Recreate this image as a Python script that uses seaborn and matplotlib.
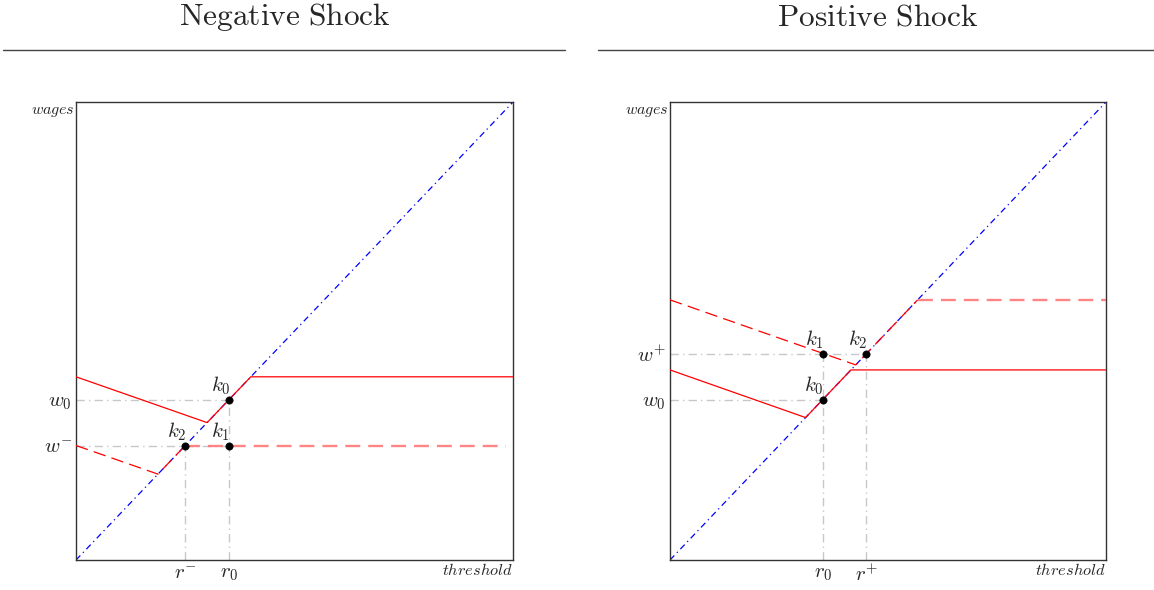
import matplotlib
matplotlib.use("Agg")
import matplotlib.pyplot as plt
import seaborn as sns
from matplotlib.lines import Line2D

sns.set_theme(style="white")
plt.rcParams["mathtext.fontset"] = "cm"
plt.rcParams["font.family"] = ["DejaVu Serif"]

# ---- data: negative shock panel ----
neg_diag_x = [0, 10]
neg_diag_y = [0, 10]
neg_solid_x = [0, 3.0, 4.0, 10]
neg_solid_y = [4.0, 3.0, 4.0, 4.0]
neg_dash_x = [0, 1.875, 2.5, 9.85]
neg_dash_y = [2.5, 1.875, 2.5, 2.5]
neg_pts_x = [3.5, 3.5, 2.5]
neg_pts_y = [3.5, 2.5, 2.5]
neg_pts_lab = [r"$k_0$", r"$k_1$", r"$k_2$"]
neg_guides = [([0, 3.5], [3.5, 3.5]), ([0, 3.5], [2.5, 2.5]),
              ([3.5, 3.5], [0, 3.5]), ([2.5, 2.5], [0, 2.5])]
neg_yticks = [2.5, 3.5]
neg_ylabels = [r"$w^{-}$", r"$w_0$"]
neg_xticks = [2.5, 3.5]
neg_xlabels = [r"$r^{-}$", r"$r_0$"]

# ---- data: positive shock panel ----
pos_diag_x = [0, 10]
pos_diag_y = [0, 10]
pos_solid_x = [0, 3.11, 4.15, 10]
pos_solid_y = [4.15, 3.11, 4.15, 4.15]
pos_dash_x = [0, 4.26, 5.68, 10]
pos_dash_y = [5.68, 4.26, 5.68, 5.68]
pos_pts_x = [3.5, 3.5, 4.5]
pos_pts_y = [3.5, 4.5, 4.5]
pos_pts_lab = [r"$k_0$", r"$k_1$", r"$k_2$"]
pos_guides = [([0, 3.5], [3.5, 3.5]), ([0, 4.5], [4.5, 4.5]),
              ([3.5, 3.5], [0, 4.5]), ([4.5, 4.5], [0, 4.5])]
pos_yticks = [3.5, 4.5]
pos_ylabels = [r"$w_0$", r"$w^{+}$"]
pos_xticks = [3.5, 4.5]
pos_xlabels = [r"$r_0$", r"$r^{+}$"]


def draw_panel(ax, diag, solid, dash, pts, guides, yt, xt):
    for gx, gy in guides:
        ax.plot(gx, gy, color="#c8c8c8", lw=1.0, dashes=(6, 3, 1, 3), zorder=1)
    sns.lineplot(x=diag[0], y=diag[1], ax=ax, color="blue", lw=0.9,
                 sort=False, zorder=2).lines[-1].set_dashes((5, 3, 1, 3))
    sns.lineplot(x=solid[0], y=solid[1], ax=ax, color="red", lw=0.9,
                 sort=False, zorder=3)
    # sloped part of the dashed schedule
    sns.lineplot(x=dash[0][:3], y=dash[1][:3], ax=ax, color="red", lw=0.9,
                 sort=False, zorder=3).lines[-1].set_dashes((10, 5))
    # flat part of the dashed schedule (lighter, thicker)
    sns.lineplot(x=dash[0][2:], y=dash[1][2:], ax=ax, color="#ff7070", lw=1.7,
                 alpha=0.85, sort=False, zorder=3).lines[-1].set_dashes((6.3, 3.4))
    sns.scatterplot(x=pts[0], y=pts[1], ax=ax, color="black", s=28,
                    edgecolor="black", zorder=5)
    for px, py, lab in zip(pts[0], pts[1], pts[2]):
        ax.annotate(lab, (px, py), xytext=(1, 2), textcoords="offset points",
                    ha="right", va="bottom", fontsize=15)
    ax.set_xlim(0, 10)
    ax.set_ylim(0, 10)
    ax.set_yticks(yt[0])
    ax.set_yticklabels(yt[1], fontsize=15)
    ax.set_xticks(xt[0])
    ax.set_xticklabels(xt[1], fontsize=15)
    ax.tick_params(length=0, pad=3)
    for sp in ax.spines.values():
        sp.set_color("#333333")
        sp.set_linewidth(1.0)
    ax.text(-0.003, 1.0, r"$wages$", transform=ax.transAxes, ha="right",
            va="top", fontsize=11.5)
    ax.text(1.0, -0.004, r"$threshold$", transform=ax.transAxes, ha="right",
            va="top", fontsize=11.8)
    ax.set_xlabel("")
    ax.set_ylabel("")


fig = plt.figure(figsize=(11.54, 5.90), dpi=100)
ax1 = fig.add_axes([76 / 1154, 30 / 590, 437 / 1154, 458 / 590])
ax2 = fig.add_axes([670 / 1154, 30 / 590, 436 / 1154, 458 / 590])

draw_panel(ax1, (neg_diag_x, neg_diag_y), (neg_solid_x, neg_solid_y),
           (neg_dash_x, neg_dash_y), (neg_pts_x, neg_pts_y, neg_pts_lab),
           neg_guides, (neg_yticks, neg_ylabels), (neg_xticks, neg_xlabels))
draw_panel(ax2, (pos_diag_x, pos_diag_y), (pos_solid_x, pos_solid_y),
           (pos_dash_x, pos_dash_y), (pos_pts_x, pos_pts_y, pos_pts_lab),
           pos_guides, (pos_yticks, pos_ylabels), (pos_xticks, pos_xlabels))

# titles with rules underneath
fig.text(285 / 1154, 1 - 17 / 590, r"$\mathrm{Negative\ Shock}$", ha="center",
         va="center", fontsize=22.6)
fig.text(878 / 1154, 1 - 17 / 590, r"$\mathrm{Positive\ Shock}$", ha="center",
         va="center", fontsize=22.6)
fig.add_artist(Line2D([3 / 1154, 565 / 1154], [1 - 50 / 590, 1 - 50 / 590],
                      color="#444444", lw=1.0))
fig.add_artist(Line2D([598 / 1154, 1.0], [1 - 50 / 590, 1 - 50 / 590],
                      color="#444444", lw=1.0))

fig.savefig("out.png", dpi=100)
